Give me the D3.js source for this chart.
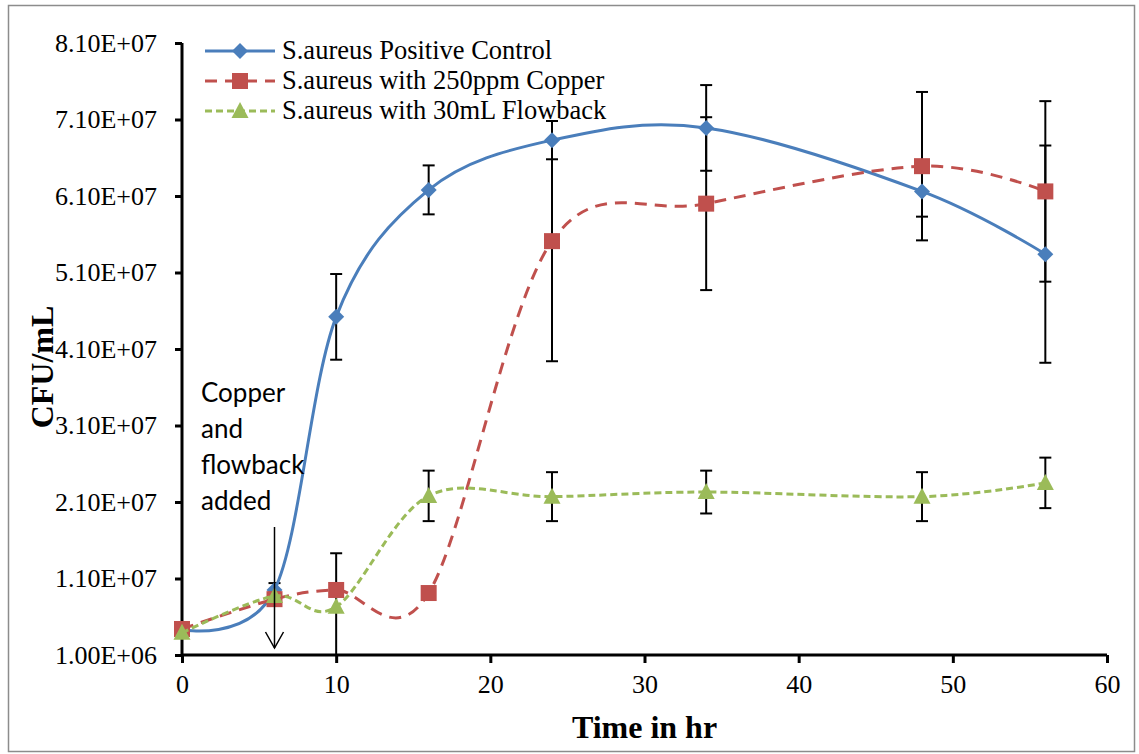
<!DOCTYPE html>
<html>
<head>
<meta charset="utf-8">
<script src="https://cdn.jsdelivr.net/npm/d3@7"></script>
<style>
  body { margin: 0; background: #fff; }
  svg { display: block; }
  .axis text { font-family: 'Liberation Serif', 'Times New Roman', serif; font-size: 26px; fill: #000; }
</style>
</head>
<body>
<script>
//------------------------------------------------------------------------------
// Data
//------------------------------------------------------------------------------
var hours = [0, 6, 10, 16, 24, 34, 48, 56]

var controlMean = [4.3e6, 9.5e6, 4.52e7, 6.18e7, 6.83e7, 6.99e7, 6.16e7, 5.34e7]
var controlErr  = [0, 9e5, 5.6e6, 3.2e6, 2.5e6, 5.6e6, 3.3e6, 1.42e7]

var copperMean = [4.4e6, 8.3e6, 9.5e6, 9.1e6, 5.51e7, 6.0e7, 6.49e7, 6.16e7]
var copperErr  = [0, 0, 0, 0, 1.57e7, 1.13e7, 9.7e6, 1.18e7]

var flowbackMean = [3.9e6, 8.7e6, 7.3e6, 2.18e7, 2.17e7, 2.23e7, 2.17e7, 2.35e7]
var flowbackErr  = [0, 0, 7e6, 3.3e6, 3.2e6, 2.8e6, 3.2e6, 3.3e6]

var yTicks = [1e6, 1.1e7, 2.1e7, 3.1e7, 4.1e7, 5.1e7, 6.1e7, 7.1e7, 8.1e7]
var xTicks = [0, 10, 20, 30, 40, 50, 60]

var seriesNames = ["S.aureus Positive Control", "S.aureus with 250ppm Copper", "S.aureus with 30mL Flowback"]

var series = [
  {name: seriesNames[0], mean: controlMean, err: controlErr, color: "#4A7EBB", dash: null, shape: "diamond"},
  {name: seriesNames[1], mean: copperMean, err: copperErr, color: "#C0504D", dash: "12,8", shape: "square"},
  {name: seriesNames[2], mean: flowbackMean, err: flowbackErr, color: "#9BBB59", dash: "7,4", shape: "triangle"}
]

//------------------------------------------------------------------------------
// Layout
//------------------------------------------------------------------------------
var W = 1139, H = 754
var plot = {left: 182, right: 1107, top: 43, bottom: 655}

var svg = d3.select("body").append("svg")
  .attr("width", W)
  .attr("height", H)

svg.append("rect")
  .attr("x", 8.5).attr("y", 5.5)
  .attr("width", 1126).attr("height", 746)
  .attr("fill", "#fff")
  .attr("stroke", "#8c8c8c")
  .attr("stroke-width", 1.5)

var x = d3.scaleLinear().domain([0, 60]).range([plot.left, plot.right])
var y = d3.scaleLinear().domain([1e6, 8.1e7]).range([plot.bottom, plot.top])

var serif = "'Liberation Serif', 'Times New Roman', serif"

//------------------------------------------------------------------------------
// Axes
//------------------------------------------------------------------------------
var yAxis = svg.append("g")
  .attr("class", "axis y")
  .attr("transform", "translate(" + plot.left + ",0)")
  .call(d3.axisLeft(y).tickValues(yTicks).tickSize(7).tickPadding(18)
    .tickFormat(function(d){
      var e = Math.floor(Math.log10(d))
      var m = d / Math.pow(10, e)
      return m.toFixed(2) + "E+" + (e < 10 ? "0" + e : e)
    }))

var xAxis = svg.append("g")
  .attr("class", "axis x")
  .attr("transform", "translate(0," + plot.bottom + ")")
  .call(d3.axisBottom(x).tickValues(xTicks).tickSize(8).tickPadding(12))

;[yAxis, xAxis].forEach(function(a){
  a.attr("font-size", null).attr("font-family", null)
  a.select(".domain").attr("stroke", "#000").attr("stroke-width", 3)
  a.selectAll(".tick line").attr("stroke", "#000").attr("stroke-width", 3)
})
yAxis.select(".domain").attr("d", "M0," + plot.top + "V" + plot.bottom)
xAxis.select(".domain").attr("d", "M" + plot.left + ",0H" + plot.right)

svg.append("text")
  .attr("x", (plot.left + plot.right) / 2)
  .attr("y", 738)
  .attr("text-anchor", "middle")
  .style("font-family", serif)
  .style("font-size", "32px")
  .style("font-weight", "bold")
  .text("Time in hr")

svg.append("text")
  .attr("transform", "translate(53,367) rotate(-90)")
  .attr("text-anchor", "middle")
  .style("font-family", serif)
  .style("font-size", "32px")
  .style("font-weight", "bold")
  .text("CFU/mL")

//------------------------------------------------------------------------------
// Error bars
//------------------------------------------------------------------------------
var bars = svg.append("g").attr("class", "errorbars")

series.forEach(function(s){
  s.mean.forEach(function(m, i){
    if (!s.err[i]) return
    var cx = x(hours[i])
    var lo = m - s.err[i], hi = m + s.err[i]
    var yLo = Math.min(y(lo), plot.bottom), yHi = y(hi)
    bars.append("line")
      .attr("x1", cx).attr("x2", cx)
      .attr("y1", yHi).attr("y2", yLo)
      .attr("stroke", "#000").attr("stroke-width", 2)
    bars.append("line")
      .attr("x1", cx - 6).attr("x2", cx + 6)
      .attr("y1", yHi).attr("y2", yHi)
      .attr("stroke", "#000").attr("stroke-width", 2)
    if (lo >= y.domain()[0]) {
      bars.append("line")
        .attr("x1", cx - 6).attr("x2", cx + 6)
        .attr("y1", yLo).attr("y2", yLo)
        .attr("stroke", "#000").attr("stroke-width", 2)
    }
  })
})

//------------------------------------------------------------------------------
// Lines and markers
//------------------------------------------------------------------------------
var line = d3.line()
  .x(function(d){ return x(d[0]) })
  .y(function(d){ return y(d[1]) })
  .curve(d3.curveCatmullRom.alpha(0))

function marker(sel, shape, color) {
  if (shape == "diamond") {
    sel.append("path").attr("d", "M0,-8L8,0L0,8L-8,0Z").attr("fill", color)
  }
  else if (shape == "square") {
    sel.append("rect").attr("x", -8).attr("y", -8).attr("width", 16).attr("height", 16).attr("fill", color)
  }
  else {
    sel.append("path").attr("d", "M0,-9L8.5,7L-8.5,7Z").attr("fill", color)
  }
}

series.forEach(function(s){
  var pts = hours.map(function(h, i){ return [h, s.mean[i]] })
  svg.append("path")
    .attr("d", line(pts))
    .attr("fill", "none")
    .attr("stroke", s.color)
    .attr("stroke-width", 3)
    .attr("stroke-dasharray", s.dash)
  pts.forEach(function(p){
    var g = svg.append("g").attr("transform", "translate(" + x(p[0]) + "," + y(p[1]) + ")")
    marker(g, s.shape, s.color)
  })
})

//------------------------------------------------------------------------------
// Legend
//------------------------------------------------------------------------------
var legendY = [51, 81, 111]
series.forEach(function(s, i){
  var g = svg.append("g").attr("transform", "translate(205," + legendY[i] + ")")
  g.append("line")
    .attr("x1", 0).attr("x2", 70)
    .attr("stroke", s.color).attr("stroke-width", 3)
    .attr("stroke-dasharray", s.dash)
  marker(g.append("g").attr("transform", "translate(35,0)"), s.shape, s.color)
  g.append("text")
    .attr("x", 77).attr("y", 8)
    .style("font-family", serif)
    .style("font-size", "26.5px")
    .text(s.name)
})

//------------------------------------------------------------------------------
// Annotation
//------------------------------------------------------------------------------
var noteLines = ["Copper", "and", "flowback", "added"]
svg.append("text")
  .style("font-family", "Lato, 'Open Sans', sans-serif")
  .style("font-size", "26px")
  .selectAll("tspan")
  .data(noteLines)
  .enter().append("tspan")
    .attr("x", 201)
    .attr("y", function(d, i){ return 402 + i * 36 })
    .text(function(d){ return d })

var ax = x(6)
svg.append("line")
  .attr("x1", ax).attr("x2", ax)
  .attr("y1", 527).attr("y2", 648)
  .attr("stroke", "#000").attr("stroke-width", 1.5)
svg.append("path")
  .attr("d", "M" + (ax - 9) + ",632L" + ax + ",648L" + (ax + 9) + ",632")
  .attr("fill", "none").attr("stroke", "#000").attr("stroke-width", 1.5)
</script>
</body>
</html>
